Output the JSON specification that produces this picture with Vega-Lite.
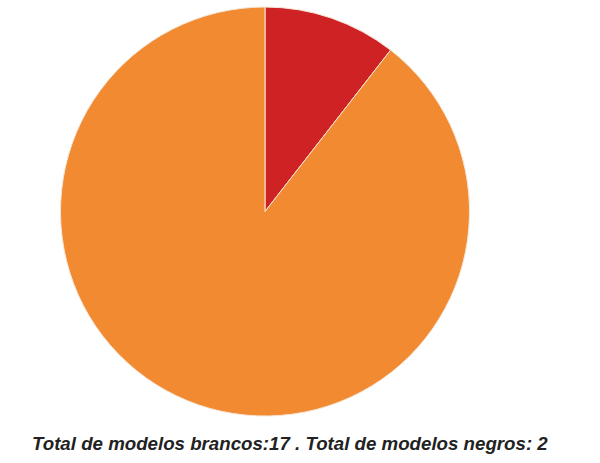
{
  "$schema": "https://vega.github.io/schema/vega-lite/v6.json",
  "width": 530,
  "height": 423,
  "padding": 0,
  "autosize": {"type": "pad"},
  "background": "white",
  "view": {"stroke": null},
  "title": {
    "text": "Total de modelos brancos:17 . Total de modelos negros: 2",
    "orient": "bottom",
    "anchor": "start",
    "dx": 32,
    "offset": 12,
    "font": "Liberation Sans",
    "fontSize": 18.7,
    "fontWeight": "bold",
    "fontStyle": "italic",
    "color": "#222222"
  },
  "data": {
    "values": [
      {"modelo": "negros", "total": 2, "ordem": 1},
      {"modelo": "brancos", "total": 17, "ordem": 2}
    ]
  },
  "mark": {"type": "arc", "outerRadius": 204.5, "stroke": "#f6e6d6", "strokeWidth": 1},
  "encoding": {
    "theta": {"field": "total", "type": "quantitative", "stack": true},
    "order": {"field": "ordem", "type": "quantitative"},
    "color": {
      "field": "modelo",
      "type": "nominal",
      "scale": {"domain": ["negros", "brancos"], "range": ["#CF2224", "#F28A31"]},
      "legend": null
    }
  }
}
